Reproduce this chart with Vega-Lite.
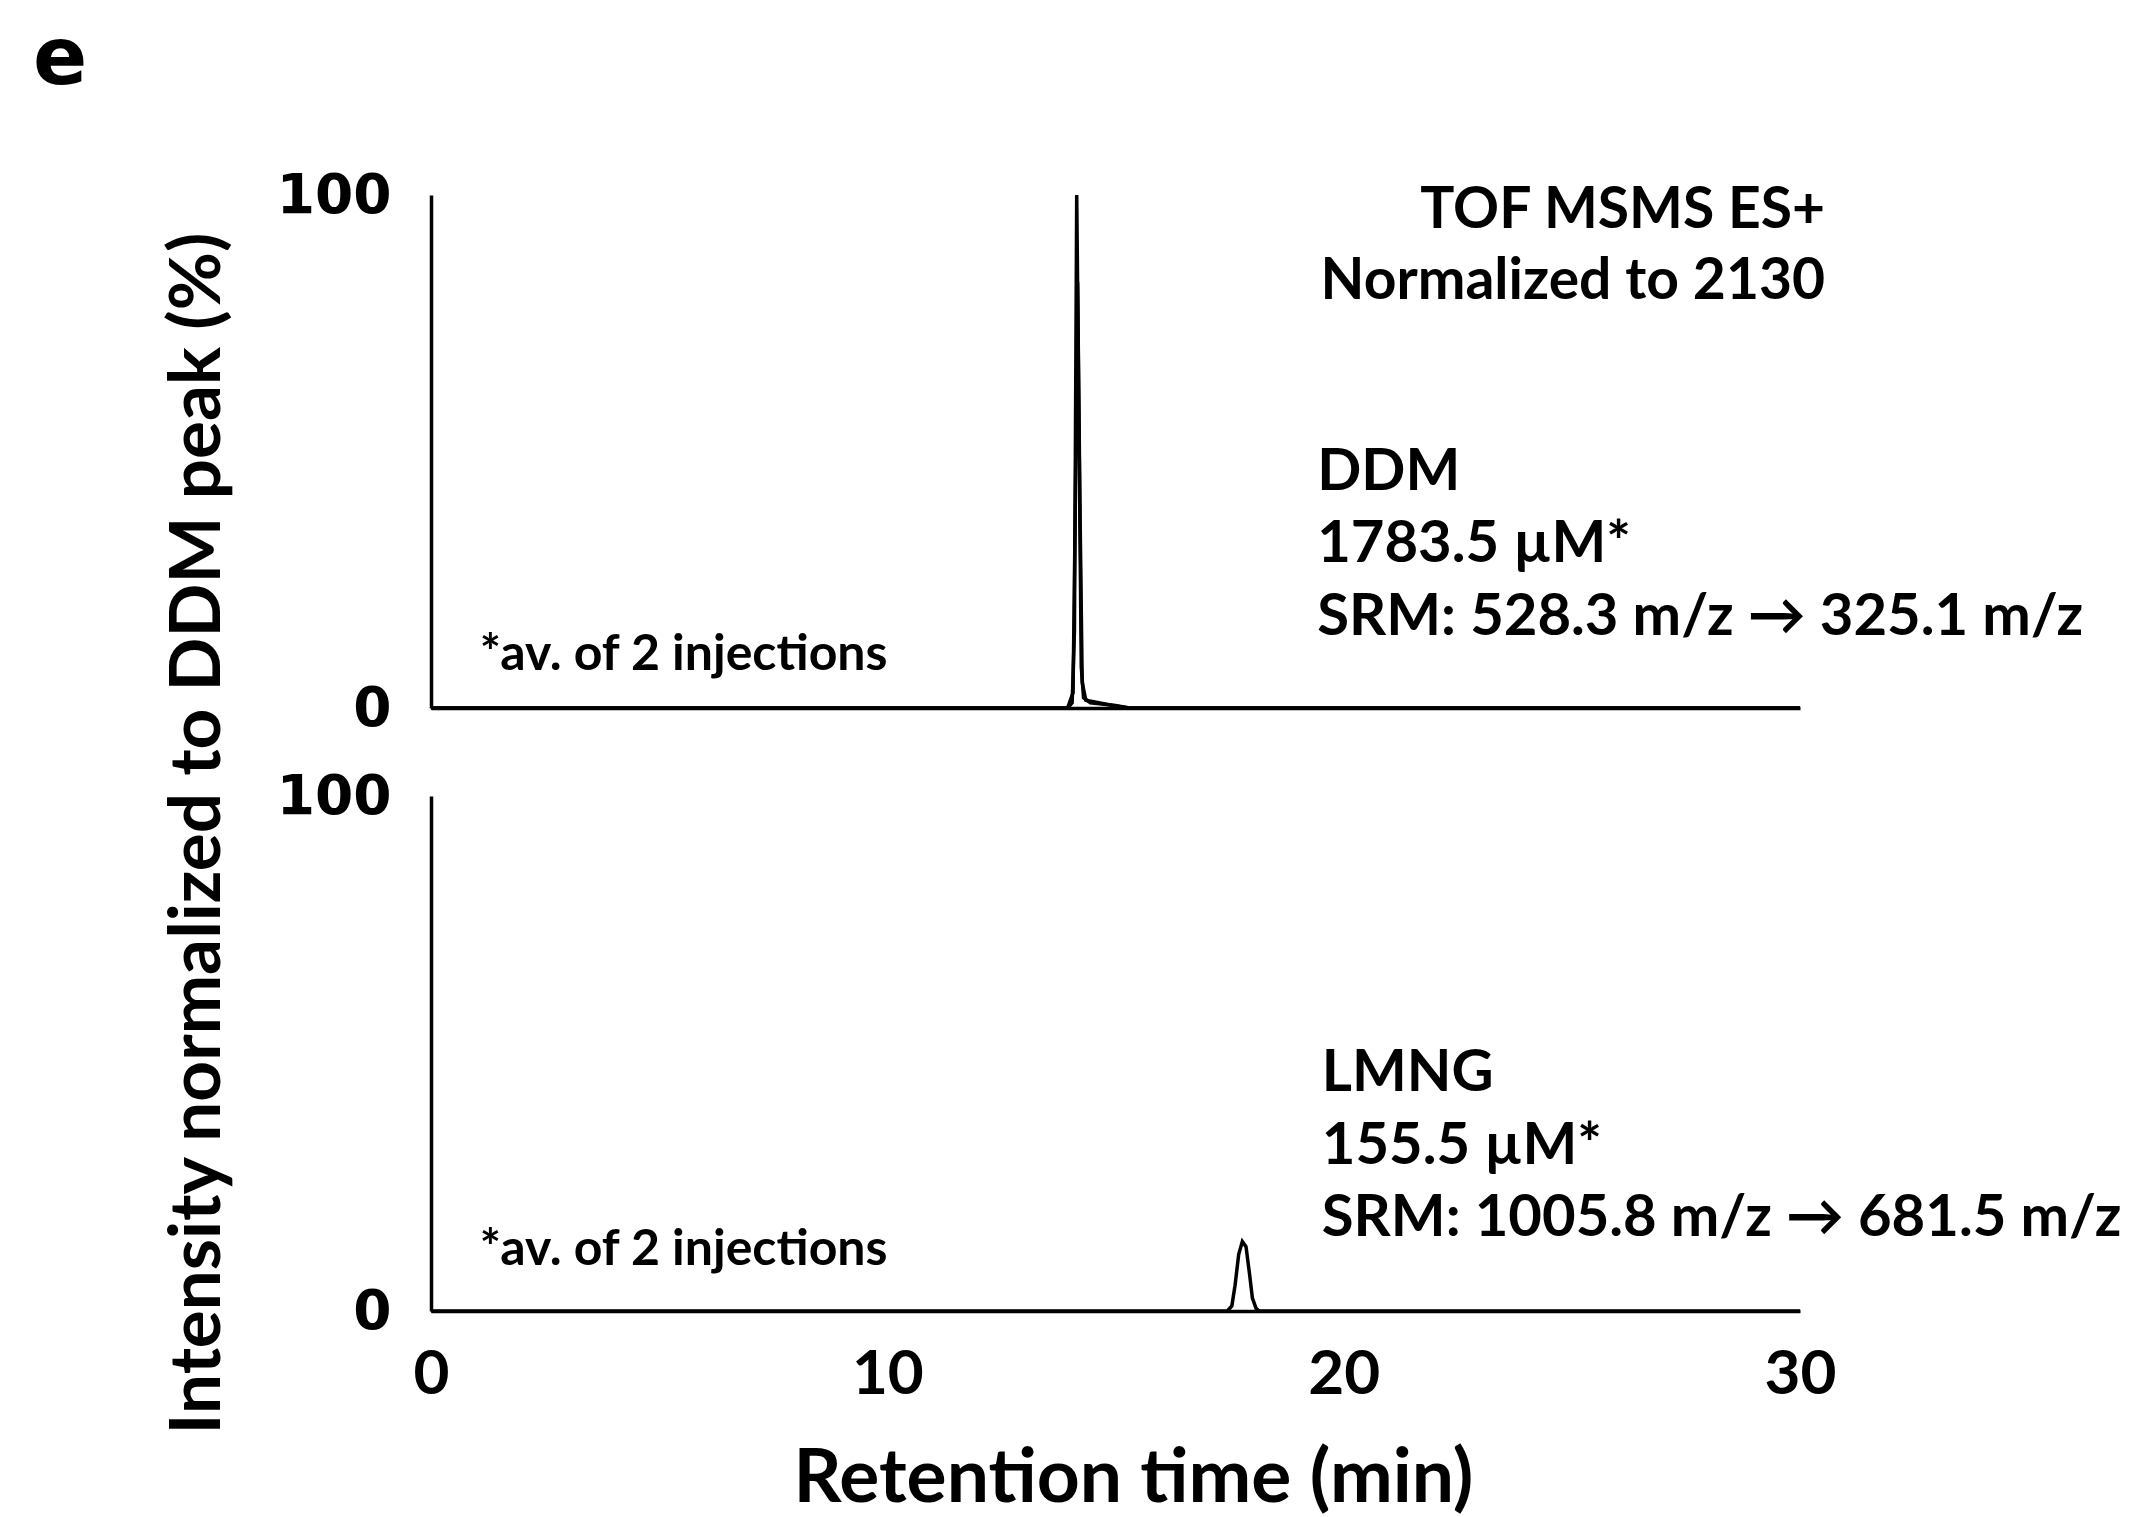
{
  "$schema": "https://vega.github.io/schema/vega-lite/v6.json",
  "autosize": {"type": "pad"},
  "padding": {"left": 32, "top": 20, "right": 10, "bottom": 10},
  "background": "white",
  "config": {
    "view": {"stroke": null},
    "font": "Lato",
    "axis": {"domainColor": "black", "domainWidth": 3.5, "ticks": false, "tickSize": 0, "grid": false, "labelColor": "black", "titleColor": "black"}
  },
  "datasets": {
    "ddm": [
      {"t": 0, "i": 0, "inj": "A"}, {"t": 13.95, "i": 0, "inj": "A"}, {"t": 14.05, "i": 1, "inj": "A"}, {"t": 14.1, "i": 15, "inj": "A"}, {"t": 14.15, "i": 100, "inj": "A"}, {"t": 14.2, "i": 55, "inj": "A"}, {"t": 14.25, "i": 8, "inj": "A"}, {"t": 14.3, "i": 2, "inj": "A"}, {"t": 14.45, "i": 1, "inj": "A"}, {"t": 15.0, "i": 0.5, "inj": "A"}, {"t": 15.3, "i": 0, "inj": "A"}, {"t": 30, "i": 0, "inj": "A"},
      {"t": 0, "i": 0, "inj": "B"}, {"t": 13.95, "i": 0, "inj": "B"}, {"t": 14.07, "i": 3, "inj": "B"}, {"t": 14.12, "i": 40, "inj": "B"}, {"t": 14.17, "i": 83, "inj": "B"}, {"t": 14.22, "i": 40, "inj": "B"}, {"t": 14.27, "i": 5, "inj": "B"}, {"t": 14.35, "i": 1.5, "inj": "B"}, {"t": 15.0, "i": 0.4, "inj": "B"}, {"t": 15.3, "i": 0, "inj": "B"}, {"t": 30, "i": 0, "inj": "B"}
    ],
    "lmng": [
      {"t": 0, "i": 0}, {"t": 17.45, "i": 0}, {"t": 17.55, "i": 1}, {"t": 17.62, "i": 5}, {"t": 17.7, "i": 11}, {"t": 17.78, "i": 13.5}, {"t": 17.86, "i": 12.5}, {"t": 17.94, "i": 7}, {"t": 18.0, "i": 2.5}, {"t": 18.08, "i": 0.5}, {"t": 18.15, "i": 0}, {"t": 30, "i": 0}
    ],
    "one": [{}]
  },
  "vconcat": [
    {
      "width": 1369,
      "height": 513,
      "layer": [
        {
          "data": {"name": "ddm"},
          "mark": {"type": "line", "color": "black", "strokeWidth": 3.5},
          "encoding": {
            "x": {"field": "t", "type": "quantitative", "scale": {"domain": [0, 30], "nice": false},
                  "axis": {"labels": false, "title": null, "domain": true}},
            "y": {"field": "i", "type": "quantitative", "scale": {"domain": [0, 100], "nice": false},
                  "axis": {"values": [0, 100], "labelFont": "DejaVu Sans", "labelFontWeight": "bold", "labelFontSize": 55, "labelPadding": 40, "labelFlush": false,
                           "title": "Intensity normalized to DDM peak (%)", "titleFont": "Lato", "titleFontWeight": "bold", "titleFontSize": 71,
                           "titleX": -233, "titleY": 638, "titleAlign": "center", "titleBaseline": "middle", "titleAngle": -90}},
            "detail": {"field": "inj"}
          }
        },
        {
          "data": {"name": "one"},
          "mark": {"type": "text", "font": "DejaVu Sans", "fontWeight": "bold", "fontSize": 80, "align": "center", "baseline": "alphabetic", "color": "black"},
          "encoding": {"x": {"datum": -8.13}, "y": {"datum": 121.6}, "text": {"value": "e"}}
        },
        {
          "data": {"name": "one"},
          "mark": {"type": "text", "font": "Lato", "fontWeight": "bold", "fontSize": 57, "align": "right", "baseline": "middle", "lineHeight": 71, "color": "black"},
          "encoding": {"x": {"datum": 30.55}, "y": {"datum": 96.8}, "text": {"value": ["TOF MSMS ES+", "Normalized to 2130"]}}
        },
        {
          "data": {"name": "one"},
          "mark": {"type": "text", "font": "Lato", "fontWeight": "bold", "fontSize": 58, "align": "left", "baseline": "middle", "lineHeight": 72.5, "color": "black"},
          "encoding": {"x": {"datum": 19.42}, "y": {"datum": 45.9}, "text": {"value": ["DDM", "1783.5 µM*", "SRM: 528.3 m/z → 325.1 m/z"]}}
        },
        {
          "data": {"name": "one"},
          "mark": {"type": "text", "font": "Lato", "fontWeight": "bold", "fontSize": 50, "align": "left", "baseline": "middle", "color": "black"},
          "encoding": {"x": {"datum": 1.07}, "y": {"datum": 10.3}, "text": {"value": "*av. of 2 injections"}}
        }
      ]
    },
    {
      "width": 1369,
      "height": 515,
      "layer": [
        {
          "data": {"name": "lmng"},
          "mark": {"type": "line", "color": "black", "strokeWidth": 3.5},
          "encoding": {
            "x": {"field": "t", "type": "quantitative", "scale": {"domain": [0, 30], "nice": false},
                  "axis": {"values": [0, 10, 20, 30], "labelFont": "Lato", "labelFontWeight": "bold", "labelFontSize": 62, "labelPadding": 33, "labelFlush": false,
                           "title": "Retention time (min)", "titleFont": "Lato", "titleFontWeight": "bold", "titleFontSize": 75, "titlePadding": 37, "titleX": 702, "titleAlign": "center"}},
            "y": {"field": "i", "type": "quantitative", "scale": {"domain": [0, 100], "nice": false},
                  "axis": {"values": [0, 100], "labelFont": "DejaVu Sans", "labelFontWeight": "bold", "labelFontSize": 55, "labelPadding": 40, "labelFlush": false, "title": null}}
          }
        },
        {
          "data": {"name": "one"},
          "mark": {"type": "text", "font": "Lato", "fontWeight": "bold", "fontSize": 58, "align": "left", "baseline": "middle", "lineHeight": 72.5, "color": "black"},
          "encoding": {"x": {"datum": 19.52}, "y": {"datum": 46.0}, "text": {"value": ["LMNG", "155.5 µM*", "SRM: 1005.8 m/z → 681.5 m/z"]}}
        },
        {
          "data": {"name": "one"},
          "mark": {"type": "text", "font": "Lato", "fontWeight": "bold", "fontSize": 50, "align": "left", "baseline": "middle", "color": "black"},
          "encoding": {"x": {"datum": 1.07}, "y": {"datum": 11.9}, "text": {"value": "*av. of 2 injections"}}
        }
      ]
    }
  ],
  "spacing": 88,
  "bounds": "flush"
}
